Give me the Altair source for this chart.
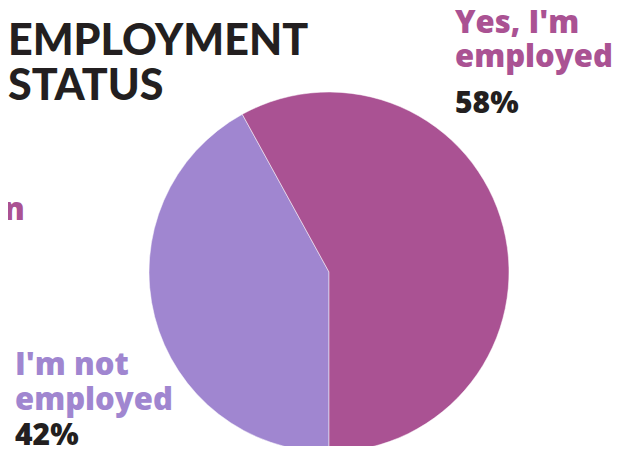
import math
import altair as alt
import pandas as pd

categories = ["I'm not employed", "Yes, I'm employed"]
values = [42, 58]
colors = ["#A086D0", "#AA5293"]
pct_labels = ["42%", "58%"]

pie_df = pd.DataFrame({"category": categories, "value": values, "order": [0, 1]})

W, H = 618, 438
CX, CY, R = 321, 264, 180

arc = alt.Chart(pie_df).mark_arc(outerRadius=R, stroke="#ffffff", strokeWidth=0.5).encode(
    theta=alt.Theta("value:Q", stack=True, scale=alt.Scale(range=[math.pi, 3 * math.pi])),
    color=alt.Color("category:N", scale=alt.Scale(domain=categories, range=colors), legend=None),
    order=alt.Order("order:Q"),
    x=alt.value(CX),
    y=alt.value(CY),
)

def txt(text, x, y, size, color, font="Open Sans", weight=800, lh=None):
    kw = dict(align="left", baseline="alphabetic", font=font, fontSize=size,
              fontWeight=weight, color=color)
    if lh:
        kw["lineHeight"] = lh
    return alt.Chart(pd.DataFrame({"t": [text]})).mark_text(**kw).encode(
        text="t:N", x=alt.value(x), y=alt.value(y))

layers = [
    arc,
    txt("Our Clients", 0, -3, 40, "#29A8E0", font="Lato", weight=900),
    txt(["EMPLOYMENT", "STATUS"], 0, 47, 43, "#231F20", font="Lato", weight=900, lh=45),
    txt(["Yes, I'm", "employed"], 447, 25, 31, colors[1], lh=34),
    txt(pct_labels[1], 447, 105, 30, "#231F20"),
    txt(["I'm not", "employed"], 7, 367, 31, colors[0], lh=35),
    txt(pct_labels[0], 7, 437, 30, "#231F20"),
    txt("n", -4, 212, 31, colors[1]),
]

chart = alt.layer(*layers).properties(
    width=W, height=H, padding=0,
    autosize=alt.AutoSizeParams(type="none"),
).configure_view(stroke=None)

chart.save("out.html", embed_options={"renderer": "svg", "actions": False})
